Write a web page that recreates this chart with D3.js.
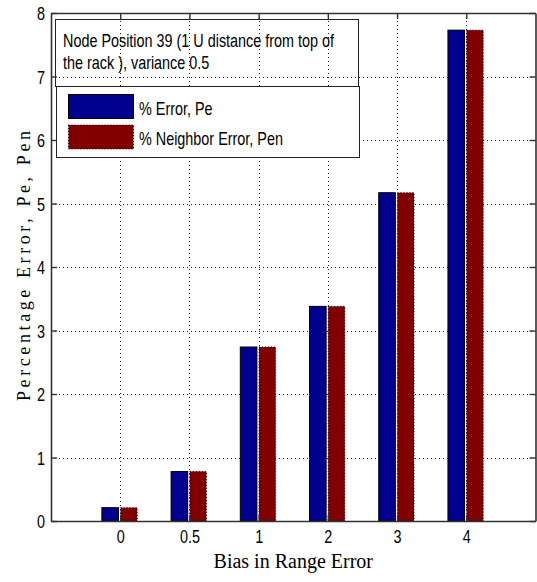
<!DOCTYPE html>
<html>
<head>
<meta charset="utf-8">
<script src="https://cdn.jsdelivr.net/npm/d3@7"></script>
<style>
  html, body { margin: 0; padding: 0; background: #fff; }
  svg { display: block; }
</style>
</head>
<body>
<svg id="chart" width="537" height="582"></svg>
<script>
// Bias values along the x axis
const categories = ["0", "0.5", "1", "2", "3", "4"];
// % Error, Pe
const peValues = [0.21, 0.78, 2.74, 3.38, 5.17, 7.73];
// % Neighbor Error, Pen
const penValues = [0.21, 0.78, 2.74, 3.38, 5.17, 7.73];
const yTicks = [0, 1, 2, 3, 4, 5, 6, 7, 8];
const seriesNames = ["% Error, Pe", "% Neighbor Error, Pen"];
const seriesColors = ["#00008f", "#800000"];
const noteLines = ["Node Position 39 (1 U distance from top of", "the rack ), variance 0.5"];
const xTitle = "Bias in Range Error";
const yTitle = "Percentage Error, Pe, Pen";

const sansFont = "'Liberation Sans', Arial, sans-serif";
const serifFont = "'Liberation Serif', 'Times New Roman', serif";
const narrow = 0.8;

const svg = d3.select("#chart");
const plotL = 51, plotR = 535.5, plotT = 13, plotB = 521;

const x = d3.scaleLinear().domain([0, categories.length + 1]).range([plotL, plotR]);
const y = d3.scaleLinear().domain([0, 8]).range([plotB, plotT]);
const idx = categories.map((_, i) => i + 1);

// dotted grid
const grid = svg.append("g").attr("stroke", "#222").attr("stroke-width", 1)
  .attr("stroke-dasharray", "1,3");
grid.selectAll("line.v").data(idx).join("line").attr("class", "v")
  .attr("x1", d => Math.round(x(d)) + 0.5).attr("x2", d => Math.round(x(d)) + 0.5)
  .attr("y1", plotT).attr("y2", plotB);
grid.selectAll("line.h").data(yTicks.slice(1, -1)).join("line").attr("class", "h")
  .attr("y1", d => Math.round(y(d)) + 0.5).attr("y2", d => Math.round(y(d)) + 0.5)
  .attr("x1", plotL).attr("x2", plotR);

// grouped bars
const offsets = [[-0.265, -0.025], [0.005, 0.245]];
[peValues, penValues].forEach((vals, s) => {
  svg.append("g").selectAll("rect").data(vals).join("rect")
    .attr("x", (d, i) => x(idx[i] + offsets[s][0]))
    .attr("width", (d, i) => x(idx[i] + offsets[s][1]) - x(idx[i] + offsets[s][0]))
    .attr("y", d => y(d))
    .attr("height", d => y(0) - y(d))
    .attr("fill", seriesColors[s])
    .attr("stroke", "#000")
    .attr("stroke-width", 1)
    .attr("stroke-dasharray", s === 1 ? "1,2" : null);
});

// narrow sans text helper
function narrowText(g, str, tx, ty, anchor) {
  return g.append("text")
    .attr("transform", `translate(${tx},${ty}) scale(${narrow},1)`)
    .attr("text-anchor", anchor || "start")
    .attr("font-family", sansFont)
    .attr("font-size", 18)
    .attr("fill", "#000")
    .text(str);
}

// annotation box (transparent)
const note = svg.append("g");
note.append("rect").attr("x", 55.5).attr("y", 19.5).attr("width", 303).attr("height", 67)
  .attr("fill", "none").attr("stroke", "#222").attr("stroke-width", 1);
noteLines.forEach((t, i) => narrowText(note, t, 63, 47 + i * 21.5));

// legend (opaque)
const legend = svg.append("g");
legend.append("rect").attr("x", 56.5).attr("y", 86.5).attr("width", 303).attr("height", 71)
  .attr("fill", "#fff").attr("stroke", "#222").attr("stroke-width", 1);
seriesNames.forEach((name, i) => {
  const ry = 94.5 + i * 30.5;
  legend.append("rect").attr("x", 68.5).attr("y", ry).attr("width", 65).attr("height", 24)
    .attr("fill", seriesColors[i]).attr("stroke", "#000").attr("stroke-width", 1)
    .attr("stroke-dasharray", i === 1 ? "1,2" : null);
  narrowText(legend, name, 139, ry + 20);
});

// axes with inward ticks
const axisColor = "#333";
const bottomAxis = d3.axisBottom(x).tickValues(idx).tickFormat(d => categories[d - 1])
  .tickSizeInner(-6).tickSizeOuter(0).tickPadding(0);
const topAxis = d3.axisTop(x).tickValues(idx).tickFormat("").tickSizeInner(-6).tickSizeOuter(0);
const leftAxis = d3.axisLeft(y).tickValues(yTicks).tickFormat(d3.format("d"))
  .tickSizeInner(-6).tickSizeOuter(0).tickPadding(7.5);
const rightAxis = d3.axisRight(y).tickValues(yTicks).tickFormat("").tickSizeInner(-6).tickSizeOuter(0);

function styleAxis(g) {
  g.select(".domain").attr("stroke", axisColor).attr("stroke-width", 1.6);
  g.selectAll(".tick line").attr("stroke", axisColor).attr("stroke-width", 1.4);
  g.selectAll(".tick text")
    .attr("font-family", sansFont).attr("font-size", 18).attr("fill", "#000");
}

const gb = svg.append("g").attr("transform", `translate(0,${plotB})`).call(bottomAxis).call(styleAxis);
gb.selectAll(".tick text").attr("dy", null).attr("y", 0)
  .attr("transform", `translate(0,22) scale(${narrow},1)`);
svg.append("g").attr("transform", `translate(0,${plotT})`).call(topAxis).call(styleAxis);
const gl = svg.append("g").attr("transform", `translate(${plotL},0)`).call(leftAxis).call(styleAxis);
gl.selectAll(".tick text").attr("dy", null).attr("x", 0)
  .attr("transform", `translate(-6,6.5) scale(${narrow},1)`);
svg.append("g").attr("transform", `translate(${plotR},0)`).call(rightAxis).call(styleAxis);

// axis titles
svg.append("text")
  .attr("x", (plotL + plotR) / 2).attr("y", 568)
  .attr("text-anchor", "middle")
  .attr("font-family", serifFont).attr("font-size", 20)
  .text(xTitle);

svg.append("text")
  .attr("transform", "translate(30,266) rotate(-90)")
  .attr("text-anchor", "middle")
  .attr("font-family", serifFont).attr("font-size", 18)
  .attr("textLength", 270).attr("lengthAdjust", "spacing")
  .text(yTitle);
</script>
</body>
</html>
